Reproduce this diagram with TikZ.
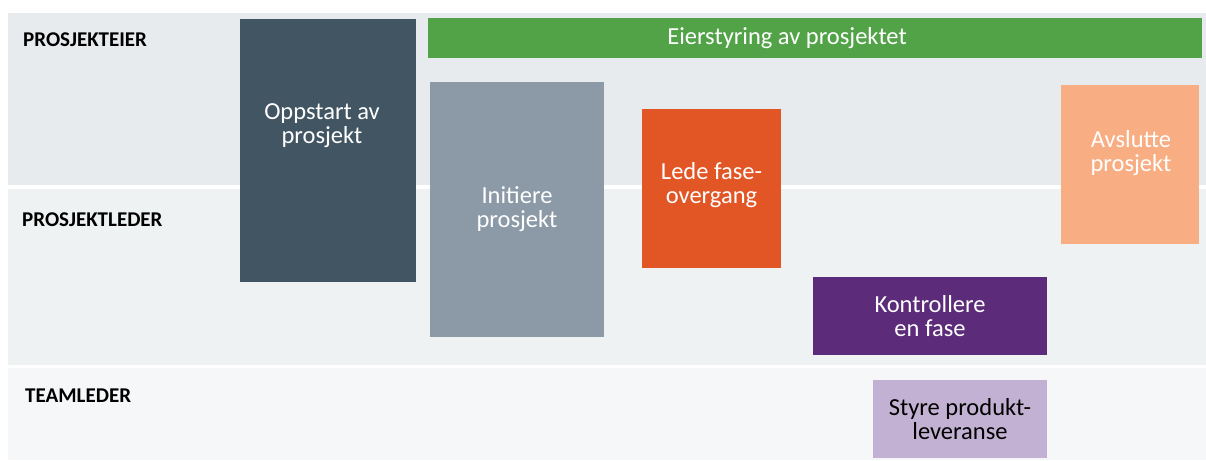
\documentclass[tikz,border=0pt]{standalone}
\usepackage{fontspec}
\setmainfont{Carlito}
\usepackage{tikz}
\usetikzlibrary{positioning}
\usepackage{xcolor}

\definecolor{bandtop}{HTML}{E8EBEE}
\definecolor{bandmid}{HTML}{EFF2F3}
\definecolor{bandlow}{HTML}{F6F7F9}
\definecolor{slate}{HTML}{425563}
\definecolor{grass}{HTML}{52A348}
\definecolor{steel}{HTML}{8C9AA8}
\definecolor{rust}{HTML}{E25525}
\definecolor{peach}{HTML}{F9AD82}
\definecolor{plum}{HTML}{5C2C7A}
\definecolor{lilac}{HTML}{C3B1D3}

\begin{document}
\begin{tikzpicture}[x=1pt, y=-1pt,
  role/.style = {anchor=base west, inner sep=0pt, font=\fontsize{21}{24}\selectfont\bfseries},
  box/.style = {draw=none, inner sep=0pt, align=center, text=white,
    font=\fontsize{24.5}{24}\selectfont},
  boxtext/.style = {inner sep=0pt, align=center, text=white,
    font=\fontsize{24.5}{24}\selectfont}
]
\useasboundingbox (0,0) rectangle (1206,460);
\fill[white] (0,0) rectangle (1206,460);
% swimlanes
\fill[bandtop] (8,13) rectangle (1206,185);
\fill[bandmid] (8,189) rectangle (1206,365);
\fill[bandlow] (8,368) rectangle (1206,460);
\node[role] (eier) at (23,47) {PROSJEKTEIER};
\node[role] (leder) at (22,226) {PROSJEKTLEDER};
\node[role] (team) at (25,402) {TEAMLEDER};
% process boxes
\node[box, fill=slate, minimum width=176, minimum height=263] (oppstart) at (328,150.5) {};
\node[boxtext] (oppstarttext) at (322,126) {Oppstart av\\prosjekt};
\node[box, fill=grass, minimum width=774, minimum height=40] (styring) at (815,38) {};
\node[boxtext] (styringtext) at (787,38) {Eierstyring av prosjektet};
\node[box, fill=steel, minimum width=174, minimum height=255] (initiere) at (517,209.5) {Initiere\\prosjekt};
\node[box, fill=rust, minimum width=139, minimum height=159] (lede) at (711.5,188.5) {};
\node[boxtext] (ledetext) at (711.5,185) {Lede fase-\\overgang};
\node[box, fill=peach, minimum width=138, minimum height=159] (avslutte) at (1130,164.5) {};
\node[boxtext] (avsluttetext) at (1131,153) {Avslutte\\prosjekt};
\node[box, fill=plum, minimum width=234, minimum height=78] (kontrollere) at (930,316) {Kontrollere\\en fase};
\node[box, fill=lilac, text=black, minimum width=174, minimum height=78] (styre) at (960,419) {Styre produkt-\\leveranse};
\end{tikzpicture}
\end{document}
